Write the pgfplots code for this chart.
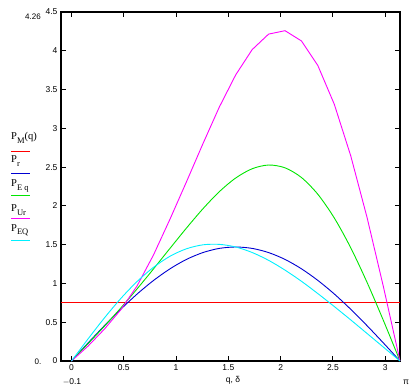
\documentclass[border=0pt]{standalone}
\usepackage{pgfplots}
\pgfplotsset{compat=1.18}
\usepackage{fontspec}
\setmainfont{Liberation Sans}
\newfontfamily\seriffont{Liberation Serif}
\definecolor{mred}{RGB}{255,0,0}
\definecolor{mblue}{RGB}{0,0,210}
\definecolor{mgreen}{RGB}{0,230,0}
\definecolor{mmag}{RGB}{255,0,255}
\definecolor{mcyan}{RGB}{0,240,255}
\newcommand{\Lab}[2]{{\seriffont\fontsize{10.5}{10.5}\selectfont P\raisebox{-3.5pt}{\fontsize{8.5}{8.5}\selectfont #1}#2}}
\begin{document}
\begin{tikzpicture}[x=1pt,y=1pt]
\path[use as bounding box] (0,0) rectangle (419,388);
\begin{axis}[at={(61pt,27pt)}, anchor=south west, scale only axis,
  width=339pt, height=349pt,
  xmin=-0.1, xmax=3.14159, ymin=0, ymax=4.5,
  xtick={0,0.5,1,1.5,2,2.5,3},
  ytick={0,0.5,1,1.5,2,2.5,3,3.5,4,4.5},
  xtick pos=both, ytick pos=both,
  xticklabel pos=lower, yticklabel pos=left,
  tick align=inside, major tick length=5pt,
  tick style={black, line width=1pt},
  axis line style={line width=1.2pt},
  ticklabel style={font=\fontsize{8.5}{9}\selectfont},
  /pgf/number format/assume math mode=true,
  clip=false]
\addplot[mred, line width=1.1pt] coordinates {(-0.1,0.75) (3.14159,0.75)};
\addplot[mblue, line width=0.9pt, smooth] coordinates {
(0,0) (0.1571,0.230) (0.3142,0.454) (0.4712,0.667) (0.6283,0.864) (0.7854,1.039)
(0.9425,1.189) (1.0996,1.310) (1.2566,1.398) (1.4137,1.452) (1.5708,1.470)
(1.7279,1.452) (1.8850,1.398) (2.0420,1.310) (2.1991,1.189) (2.3562,1.039)
(2.5133,0.864) (2.6704,0.667) (2.8274,0.454) (2.9845,0.230) (3.1416,0)};
\addplot[mgreen, line width=0.9pt, smooth] coordinates {
(0,0) (0.1571,0.221) (0.3142,0.447) (0.4712,0.683) (0.6283,0.931) (0.7854,1.189)
(0.9425,1.453) (1.0996,1.714) (1.2566,1.962) (1.4137,2.183) (1.5708,2.360)
(1.7279,2.479) (1.8850,2.527) (2.0420,2.491) (2.1991,2.366) (2.3562,2.149)
(2.5133,1.844) (2.6704,1.460) (2.8274,1.011) (2.9845,0.517) (3.1416,0)};
\addplot[mmag, line width=0.9pt] coordinates {
(0,0) (0.1571,0.190) (0.3142,0.410) (0.4712,0.660) (0.6283,0.970) (0.7854,1.370)
(0.9425,1.830) (1.0996,2.310) (1.2566,2.800) (1.4137,3.274) (1.5708,3.690)
(1.7279,4.015) (1.8850,4.215) (2.0420,4.259) (2.1991,4.127) (2.3562,3.809)
(2.5133,3.310) (2.6704,2.646) (2.8274,1.846) (2.9845,0.948) (3.1416,0)};
\addplot[mcyan, line width=0.9pt, smooth] coordinates {
(0,0) (0.1571,0.282) (0.3142,0.554) (0.4712,0.805) (0.6283,1.026) (0.7854,1.209)
(0.9425,1.351) (1.0996,1.447) (1.2566,1.498) (1.4137,1.504) (1.5708,1.470)
(1.7279,1.399) (1.8850,1.298) (2.0420,1.172) (2.1991,1.028) (2.3562,0.869)
(2.5133,0.702) (2.6704,0.530) (2.8274,0.354) (2.9845,0.177) (3.1416,0)};
\end{axis}
% axis limit labels
\node[font=\fontsize{8}{8}\selectfont] at (33,371) {4.26};
\node[font=\fontsize{8}{8}\selectfont] at (38,26) {0.};
\node[font=\fontsize{8.5}{9}\selectfont] at (72,6) {$-$0.1};
\node[font=\fontsize{8.5}{9}\selectfont] at (406,6) {π};
\node[font=\fontsize{8.5}{9}\selectfont] at (233,8) {q, δ};
% legend
\node[anchor=base west, inner sep=0pt] at (11,248) {\Lab{M}{(q)}};
\draw[mred, line width=0.9pt] (11,237) -- (30,237);
\node[anchor=base west, inner sep=0pt] at (11,225) {\Lab{r}{}};
\draw[mblue, line width=0.9pt] (11,215) -- (30,215);
\node[anchor=base west, inner sep=0pt] at (11,201) {\Lab{E q}{}};
\draw[mgreen, line width=0.9pt] (11,193) -- (30,193);
\node[anchor=base west, inner sep=0pt] at (11,176) {\Lab{Ur}{}};
\draw[mmag, line width=0.9pt] (11,170) -- (30,170);
\node[anchor=base west, inner sep=0pt] at (11,157) {\Lab{EQ}{}};
\draw[mcyan, line width=0.9pt] (11,148) -- (30,148);
\end{tikzpicture}
\end{document}
